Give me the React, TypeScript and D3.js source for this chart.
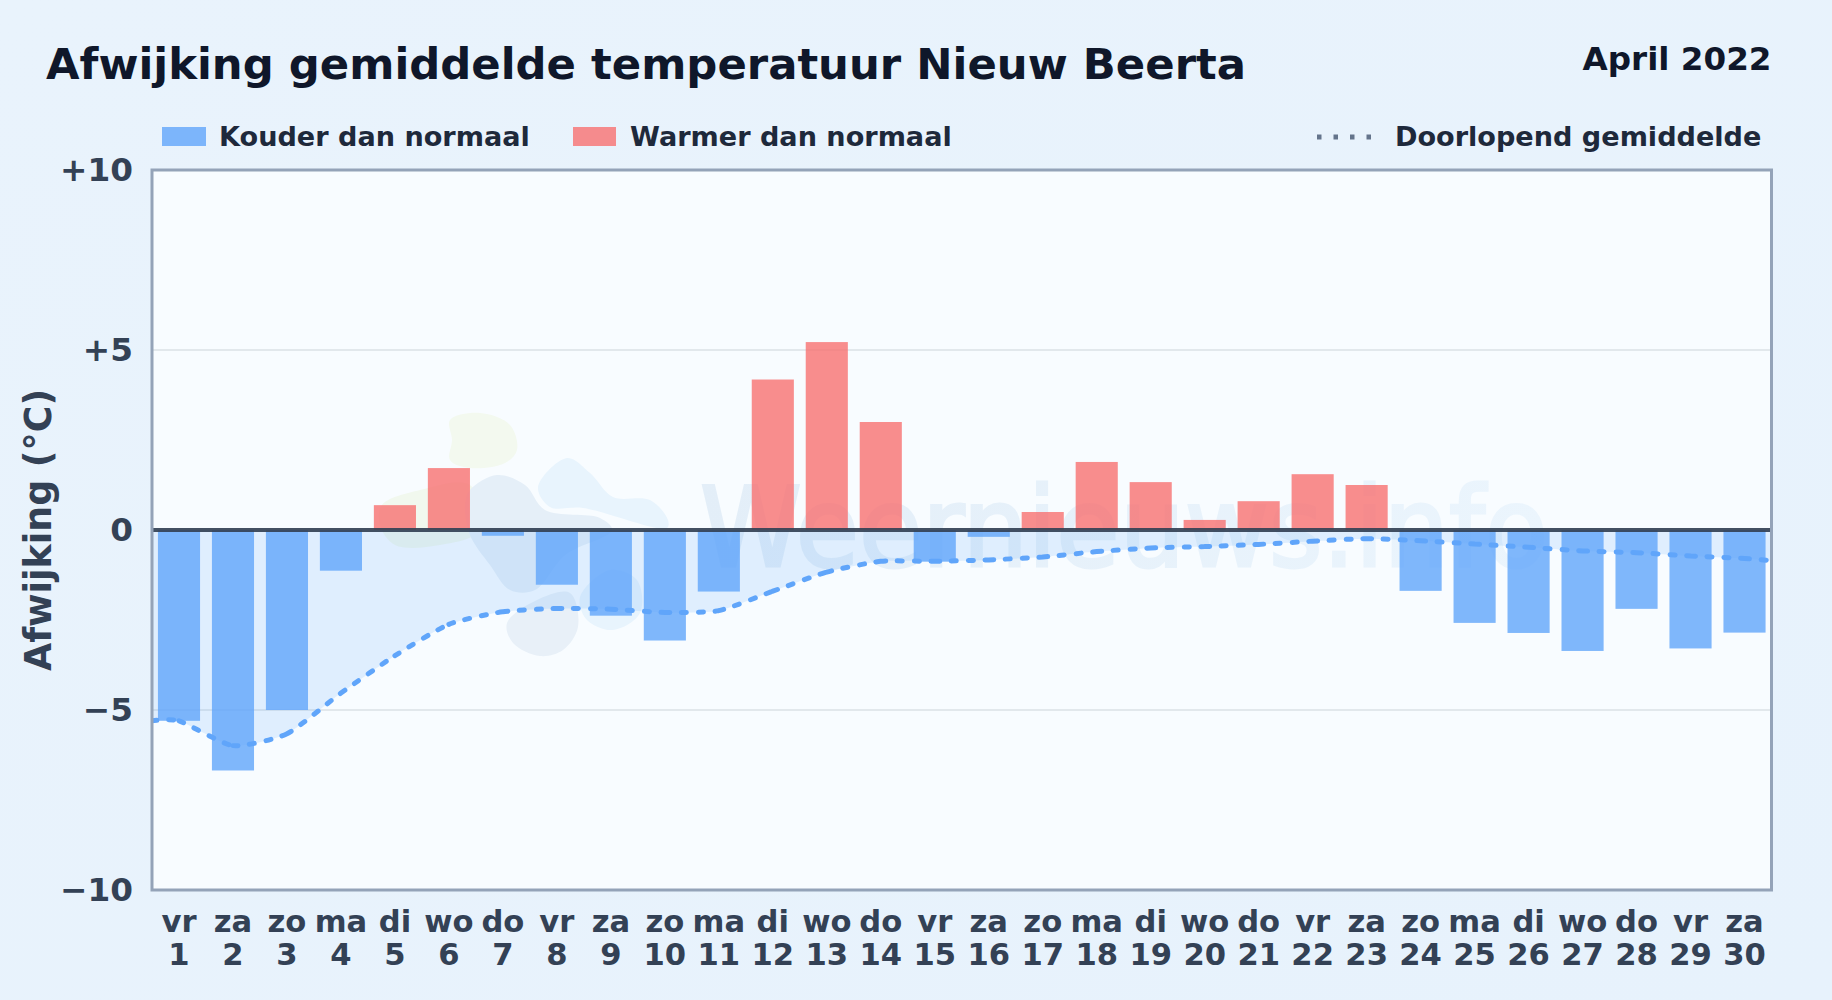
import { useEffect, useRef } from "react";
import * as d3 from "d3";

const width = 1832;
const height = 1000;
const margin = { top: 170, right: 60.5, bottom: 110, left: 152 };

const weekdays = ["vr", "za", "zo", "ma", "di", "wo", "do", "vr", "za", "zo", "ma", "di", "wo", "do", "vr", "za", "zo", "ma", "di", "wo", "do", "vr", "za", "zo", "ma", "di", "wo", "do", "vr", "za"];
const days = d3.range(1, 31).map(String);
const deviation = [-5.3, -6.68, -5.0, -1.13, 0.69, 1.72, -0.16, -1.52, -2.38, -3.07, -1.71, 4.18, 5.22, 3.0, -0.88, -0.19, 0.5, 1.89, 1.33, 0.28, 0.8, 1.55, 1.25, -1.69, -2.58, -2.86, -3.36, -2.19, -3.29, -2.85];
const runningMean = [-5.3, -5.99, -5.66, -4.53, -3.49, -2.62, -2.27, -2.18, -2.2, -2.29, -2.24, -1.7, -1.17, -0.87, -0.87, -0.83, -0.75, -0.6, -0.5, -0.46, -0.4, -0.31, -0.24, -0.3, -0.39, -0.48, -0.58, -0.63, -0.72, -0.79];
const yTicks = [-10, -5, 0, 5, 10];

// watermark logo blobs, in page pixels
const blobs: { color: string; points: [number, number][] }[] = [
  { color: "#f3f9ef", points: [[450, 420], [480, 413], [510, 425], [517, 450], [505, 463], [470, 468], [450, 460], [452, 440]] },
  { color: "#f1f8ee", points: [[382, 505], [420, 490], [470, 485], [480, 530], [440, 545], [395, 545], [380, 525]] },
  { color: "#e5eff8", points: [[470, 490], [497, 475], [525, 485], [545, 510], [600, 518], [612, 530], [565, 555], [535, 590], [510, 590], [490, 565], [470, 535], [465, 505]] },
  { color: "#e8f4fd", points: [[538, 487], [567, 458], [590, 473], [613, 497], [650, 500], [668, 520], [667, 528], [583, 508], [550, 507]] },
  { color: "#e8f0f8", points: [[507, 623], [537, 600], [570, 593], [578, 627], [563, 650], [540, 656], [513, 643]] },
  { color: "#e8f4fd", points: [[580, 597], [610, 570], [637, 580], [640, 613], [613, 630], [587, 620]] },
];

export default function App() {
  const svgRef = useRef<SVGSVGElement | null>(null);

  useEffect(() => {
    if (!svgRef.current) return;
    const svg = d3.select(svgRef.current);
    svg.selectAll("*").remove();

    const x = d3
      .scaleBand<number>()
      .domain(d3.range(30))
      .range([margin.left, width - margin.right])
      .paddingInner(0.22)
      .paddingOuter(0.11);
    const y = d3.scaleLinear().domain([-10, 10]).range([height - margin.bottom, margin.top]);
    const cx = (i: number) => (x(i) ?? 0) + x.bandwidth() / 2;

    const defs = svg.append("defs");
    const bg = defs.append("linearGradient").attr("id", "bg").attr("x1", 0).attr("y1", 0).attr("x2", 1).attr("y2", 1);
    bg.append("stop").attr("offset", "0%").attr("stop-color", "#e9f3fc");
    bg.append("stop").attr("offset", "100%").attr("stop-color", "#e7f2fc");
    const wm = defs.append("linearGradient").attr("id", "wm").attr("gradientUnits", "userSpaceOnUse").attr("x1", 700).attr("x2", 1548).attr("y1", 0).attr("y2", 0);
    wm.append("stop").attr("offset", "0%").attr("stop-color", "#e3eef8");
    wm.append("stop").attr("offset", "100%").attr("stop-color", "#ebf5fd");
    defs
      .append("clipPath")
      .attr("id", "plot")
      .append("rect")
      .attr("x", margin.left)
      .attr("y", margin.top)
      .attr("width", width - margin.left - margin.right)
      .attr("height", height - margin.top - margin.bottom);

    svg.append("rect").attr("width", width).attr("height", height).attr("fill", "url(#bg)");

    // plot background
    svg
      .append("rect")
      .attr("x", margin.left)
      .attr("y", margin.top)
      .attr("width", width - margin.left - margin.right)
      .attr("height", height - margin.top - margin.bottom)
      .attr("fill", "#f8fcff");

    // watermark
    const blob = d3.line().curve(d3.curveCatmullRomClosed);
    svg
      .append("g")
      .selectAll("path")
      .data(blobs)
      .join("path")
      .attr("d", (d) => blob(d.points))
      .attr("fill", (d) => d.color);
    svg
      .append("text")
      .attr("x", 700)
      .attr("y", 566)
      .attr("textLength", 848)
      .attr("lengthAdjust", "spacingAndGlyphs")
      .attr("fill", "url(#wm)")
      .attr("stroke", "url(#wm)")
      .attr("stroke-width", 3)
      .style("font-size", "110px")
      .text("Weernieuws.info");

    // grid
    svg
      .append("g")
      .selectAll("line")
      .data(yTicks.filter((d) => Math.abs(d) === 5))
      .join("line")
      .attr("x1", margin.left)
      .attr("x2", width - margin.right)
      .attr("y1", (d) => y(d))
      .attr("y2", (d) => y(d))
      .attr("stroke", "#e2e8ec")
      .attr("stroke-width", 2);

    // line + area run out to the plot edges
    const linePoints: [number, number][] = [
      [margin.left, runningMean[0]],
      ...runningMean.map((v, i): [number, number] => [cx(i), v]),
      [width - margin.right, runningMean[runningMean.length - 1] - 0.06],
    ];
    const curve = d3.curveCardinal.tension(0.4);
    const plot = svg.append("g").attr("clip-path", "url(#plot)");
    plot
      .append("path")
      .attr(
        "d",
        d3
          .area<[number, number]>()
          .x((d) => d[0])
          .y0(y(0))
          .y1((d) => y(d[1]))
          .curve(curve)(linePoints),
      )
      .attr("fill", "#60a5fa")
      .attr("fill-opacity", 0.16);

    // bars
    plot
      .append("g")
      .selectAll("rect")
      .data(deviation)
      .join("rect")
      .attr("x", (_, i) => x(i) ?? 0)
      .attr("width", x.bandwidth())
      .attr("y", (d) => (d > 0 ? y(d) : y(0)))
      .attr("height", (d) => Math.abs(y(d) - y(0)))
      .attr("fill", (d) => (d > 0 ? "#f87171" : "#60a5fa"))
      .attr("fill-opacity", 0.8);

    // zero line
    svg
      .append("line")
      .attr("x1", margin.left)
      .attr("x2", width - margin.right)
      .attr("y1", y(0))
      .attr("y2", y(0))
      .attr("stroke", "#334155")
      .attr("stroke-opacity", 0.92)
      .attr("stroke-width", 4);

    // each day-to-day piece is its own subpath, so the dash restarts at every point
    let pieces = "";
    let last: [number, number] = [0, 0];
    const pieceContext: any = {
      moveTo(a: number, b: number) {
        last = [a, b];
      },
      lineTo(a: number, b: number) {
        pieces += `M${last}L${a},${b}`;
        last = [a, b];
      },
      bezierCurveTo(a: number, b: number, c: number, d: number, e: number, f: number) {
        pieces += `M${last}C${a},${b},${c},${d},${e},${f}`;
        last = [e, f];
      },
      closePath() {},
    };
    d3.line<[number, number]>()
      .x((d) => d[0])
      .y((d) => y(d[1]))
      .curve(curve)
      .context(pieceContext)(linePoints);
    plot
      .append("path")
      .attr("d", pieces)
      .attr("fill", "none")
      .attr("stroke", "#60a5fa")
      .attr("stroke-width", 5)
      .attr("stroke-linecap", "round")
      .attr("stroke-dasharray", "5 11.7");

    // frame
    svg
      .append("rect")
      .attr("x", margin.left)
      .attr("y", margin.top)
      .attr("width", width - margin.left - margin.right)
      .attr("height", height - margin.top - margin.bottom)
      .attr("fill", "none")
      .attr("stroke", "#94a3b8")
      .attr("stroke-width", 3);

    // y axis
    const yAxis = svg
      .append("g")
      .attr("transform", `translate(${margin.left}, 0)`)
      .call(
        d3
          .axisLeft(y)
          .tickValues(yTicks)
          .tickSize(0)
          .tickPadding(19)
          .tickFormat((d) => (+d > 0 ? `+${d}` : +d < 0 ? `\u2212${-d}` : "0")),
      );
    yAxis.select(".domain").remove();
    yAxis
      .selectAll("text")
      .attr("fill", "#334155")
      .style("font-size", "32.7px")
      .style("font-weight", "700")
      .style("font-family", "'DejaVu Sans', sans-serif");

    // x axis, weekday above date
    const xAxis = svg
      .append("g")
      .attr("transform", `translate(0, ${height - margin.bottom})`)
      .call(d3.axisBottom(x).tickSize(0).tickFormat(() => ""));
    xAxis.select(".domain").remove();
    const xLabels = xAxis
      .selectAll<SVGTextElement, number>("text")
      .attr("y", null)
      .attr("dy", null)
      .attr("fill", "#334155")
      .style("font-size", "30.6px")
      .style("font-weight", "700")
      .style("font-family", "'DejaVu Sans', sans-serif");
    xLabels.append("tspan").attr("x", 0).attr("y", 42).text((i) => weekdays[i]);
    xLabels.append("tspan").attr("x", 0).attr("y", 75).text((i) => days[i]);

    // y axis title
    svg
      .append("text")
      .attr("transform", `translate(51, ${y(0)}) rotate(-90)`)
      .attr("text-anchor", "middle")
      .attr("fill", "#334155")
      .style("font-size", "36.4px")
      .style("font-weight", "700")
      .text("Afwijking (°C)");

    // title
    svg
      .append("text")
      .attr("x", 46)
      .attr("y", 79)
      .attr("fill", "#0f172a")
      .style("font-size", "43.35px")
      .style("font-weight", "700")
      .text("Afwijking gemiddelde temperatuur Nieuw Beerta");
    svg
      .append("text")
      .attr("x", width - margin.right)
      .attr("y", 70)
      .attr("text-anchor", "end")
      .attr("fill", "#0f172a")
      .style("font-size", "32.6px")
      .style("font-weight", "700")
      .text("April 2022");

    // legend
    const legend = svg.append("g").attr("fill", "#1e293b").style("font-size", "27.1px").style("font-weight", "700");
    legend.append("rect").attr("x", 162).attr("y", 127).attr("width", 44).attr("height", 19).attr("fill", "#60a5fa").attr("fill-opacity", 0.8);
    legend.append("text").attr("x", 219).attr("y", 146).text("Kouder dan normaal");
    legend.append("rect").attr("x", 573).attr("y", 127).attr("width", 43).attr("height", 19).attr("fill", "#f87171").attr("fill-opacity", 0.8);
    legend.append("text").attr("x", 630).attr("y", 146).text("Warmer dan normaal");
    legend
      .append("line")
      .attr("x1", 1317)
      .attr("x2", 1375)
      .attr("y1", 137)
      .attr("y2", 137)
      .attr("stroke", "#64748b")
      .attr("stroke-width", 5)
      .attr("stroke-dasharray", "4.5 12");
    legend.append("text").attr("x", 1395).attr("y", 146).text("Doorlopend gemiddelde");
  }, []);

  return (
    <svg
      ref={svgRef}
      width={width}
      height={height}
      viewBox={`0 0 ${width} ${height}`}
      style={{ position: "fixed", left: 0, top: 0, fontFamily: "'DejaVu Sans', sans-serif" }}
    />
  );
}
